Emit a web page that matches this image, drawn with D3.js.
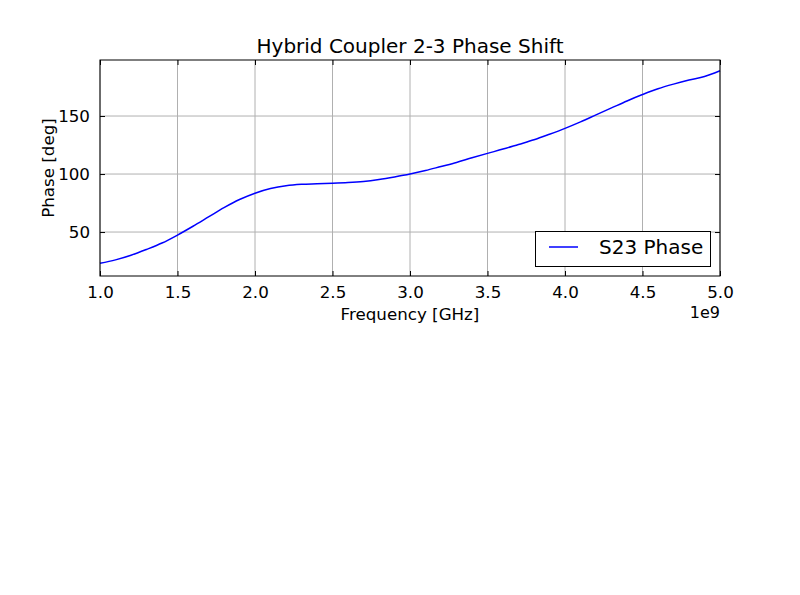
<!DOCTYPE html>
<html>
<head>
<meta charset="utf-8">
<script src="https://cdn.jsdelivr.net/npm/d3@7"></script>
<style>
  body { margin: 0; background: #fff; }
  svg { font-family: "DejaVu Sans", sans-serif; }
</style>
</head>
<body>
<svg id="chart" width="800" height="595"></svg>
<script>
// frequency in GHz (axis shows x1e9)
var freqs = [1.0, 1.1, 1.2, 1.3, 1.4, 1.5, 1.6, 1.7, 1.8, 1.9,
             2.0, 2.1, 2.2, 2.3, 2.4, 2.5, 2.6, 2.7, 2.8, 2.9,
             3.0, 3.1, 3.2, 3.3, 3.4, 3.5, 3.6, 3.7, 3.8, 3.9,
             4.0, 4.1, 4.2, 4.3, 4.4, 4.5, 4.6, 4.7, 4.8, 4.9, 5.0];
var phase = [23, 26, 30, 35, 40.5, 47.4, 55, 63, 71, 78,
             83.5, 87.5, 90, 91.2, 91.6, 92, 92.6, 93.6, 95.3, 97.5,
             100, 103, 106.5, 110, 114, 117.8, 121.5, 125.5, 129.5, 134.3,
             139.4, 145, 151, 157, 163, 168.5, 173.5, 177.5, 181, 184, 189];
var xTicks = [1.0, 1.5, 2.0, 2.5, 3.0, 3.5, 4.0, 4.5, 5.0];
var yTicks = [50, 100, 150];

var svg = d3.select("#chart");
var mLeft = 100, mRight = 720, mTop = 60, mBottom = 276;

var x = d3.scaleLinear().domain([1.0, 5.0]).range([mLeft, mRight]);
var y = d3.scaleLinear().domain([12.1, 198.3]).range([mBottom, mTop]);

// grid
svg.append("g").selectAll("line")
  .data(xTicks)
  .enter().append("line")
  .attr("x1", d => x(d)).attr("x2", d => x(d))
  .attr("y1", mTop).attr("y2", mBottom)
  .attr("stroke", "#b0b0b0").attr("stroke-width", 1);
svg.append("g").selectAll("line")
  .data(yTicks)
  .enter().append("line")
  .attr("x1", mLeft).attr("x2", mRight)
  .attr("y1", d => y(d)).attr("y2", d => y(d))
  .attr("stroke", "#b0b0b0").attr("stroke-width", 1);

// line
var line = d3.line()
  .x((d, i) => x(freqs[i]))
  .y(d => y(d))
  .curve(d3.curveCatmullRom);

svg.append("path")
  .datum(phase)
  .attr("d", line)
  .attr("fill", "none")
  .attr("stroke", "#0000ff")
  .attr("stroke-width", 1.5);

// axes: ticks inside, labels outside
var xAxis = d3.axisBottom(x).tickValues(xTicks).tickFormat(d3.format(".1f"))
  .tickSizeInner(-5).tickSizeOuter(0).tickPadding(10);
var gx = svg.append("g").attr("transform", "translate(0," + mBottom + ")").call(xAxis);
var xTop = d3.axisTop(x).tickValues(xTicks).tickFormat("").tickSizeInner(-5).tickSizeOuter(0);
var gxt = svg.append("g").attr("transform", "translate(0," + mTop + ")").call(xTop);

var yAxis = d3.axisLeft(y).tickValues(yTicks).tickSizeInner(-5).tickSizeOuter(0).tickPadding(10);
var gy = svg.append("g").attr("transform", "translate(" + mLeft + ",0)").call(yAxis);
var yRight = d3.axisRight(y).tickValues(yTicks).tickFormat("").tickSizeInner(-5).tickSizeOuter(0);
var gyr = svg.append("g").attr("transform", "translate(" + mRight + ",0)").call(yRight);

[gx, gxt, gy, gyr].forEach(g => {
  g.select(".domain").remove();
  g.selectAll("line").attr("stroke", "#000");
  g.selectAll("text").attr("font-size", 16.7).attr("font-family", "DejaVu Sans").attr("fill", "#000");
});
gx.selectAll("text").attr("dy", "0.71em");

// frame
svg.append("rect")
  .attr("x", mLeft).attr("y", mTop)
  .attr("width", mRight - mLeft).attr("height", mBottom - mTop)
  .attr("fill", "none").attr("stroke", "#000").attr("stroke-width", 1);

// texts
svg.append("text")
  .attr("x", (mLeft + mRight) / 2).attr("y", 53)
  .attr("text-anchor", "middle").attr("font-size", 20)
  .text("Hybrid Coupler 2-3 Phase Shift");

svg.append("text")
  .attr("x", (mLeft + mRight) / 2).attr("y", 320)
  .attr("text-anchor", "middle").attr("font-size", 16.7)
  .text("Frequency [GHz]");

svg.append("text")
  .attr("transform", "translate(54," + ((mTop + mBottom) / 2) + ") rotate(-90)")
  .attr("text-anchor", "middle").attr("font-size", 16.7)
  .text("Phase [deg]");

svg.append("text")
  .attr("x", mRight).attr("y", 318)
  .attr("text-anchor", "end").attr("font-size", 16)
  .text("1e9");

// legend
var lg = svg.append("g");
lg.append("rect")
  .attr("x", 535.5).attr("y", 231.5).attr("width", 175).attr("height", 35)
  .attr("fill", "#fff").attr("stroke", "#000").attr("stroke-width", 1);
lg.append("line")
  .attr("x1", 549).attr("x2", 578).attr("y1", 247).attr("y2", 247)
  .attr("stroke", "#0000ff").attr("stroke-width", 1.5);
lg.append("text")
  .attr("x", 599).attr("y", 254).attr("font-size", 20)
  .text("S23 Phase");
</script>
</body>
</html>
